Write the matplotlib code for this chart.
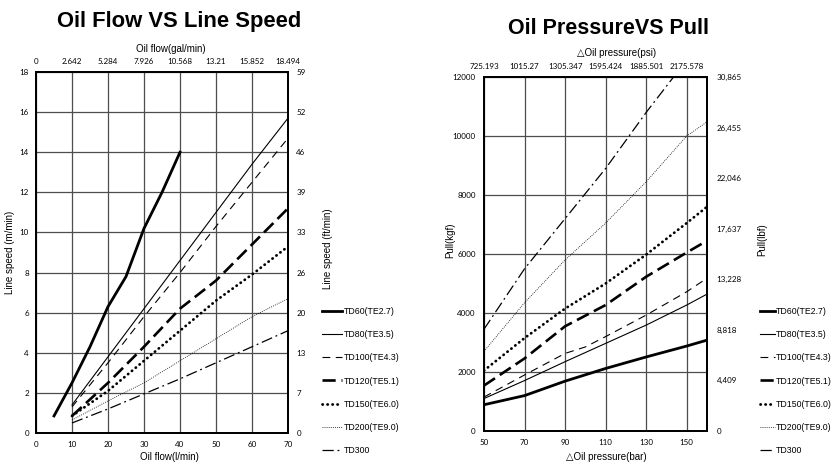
import matplotlib
matplotlib.use("Agg")
import matplotlib.pyplot as plt
from matplotlib.lines import Line2D

plt.rcParams["font.family"] = ["Liberation Sans", "DejaVu Sans"]

# ---- left chart: oil flow (l/min) vs line speed (m/min)
flow = [10, 20, 30, 40, 50, 60, 70]
td60_flow = [5, 10, 15, 20, 25, 30, 35, 40]
td60_speed = [0.85, 2.5, 4.3, 6.3, 7.8, 10.2, 12.0, 14.0]
td80_speed = [1.4, 3.8, 6.2, 8.6, 11.0, 13.4, 15.7]
td100_speed = [1.3, 3.5, 5.8, 8.0, 10.3, 12.5, 14.7]
td120_speed = [0.85, 2.5, 4.3, 6.2, 7.6, 9.4, 11.2]
td150_speed = [0.85, 2.1, 3.6, 5.1, 6.6, 7.9, 9.3]
td200_speed = [0.65, 1.6, 2.5, 3.6, 4.7, 5.8, 6.7]
td300_speed = [0.5, 1.2, 1.95, 2.7, 3.5, 4.3, 5.1]

flow_ticks = [0, 10, 20, 30, 40, 50, 60, 70]
gal_labels = ["0", "2.642", "5.284", "7.926", "10.568", "13.21", "15.852", "18.494"]
speed_ticks = [0, 2, 4, 6, 8, 10, 12, 14, 16, 18]
ftmin_labels = ["0", "7", "13", "20", "26", "33", "39", "46", "52", "59"]

# ---- right chart: oil pressure (bar) vs pull (kgf)
pressure = [50, 70, 90, 110, 130, 150, 160]
td60_pull = [890, 1200, 1690, 2120, 2510, 2880, 3080]
td80_pull = [1100, 1710, 2350, 2970, 3590, 4270, 4640]
td100_pressure = [50, 70, 90, 100, 110, 130, 150, 160]
td100_pull = [1150, 1900, 2630, 2850, 3200, 3930, 4720, 5180]
td120_pull = [1540, 2460, 3550, 4270, 5230, 6050, 6450]
td150_pull = [2050, 3150, 4150, 5000, 5980, 7050, 7600]
td200_pull = [2700, 4350, 5800, 7050, 8450, 10000, 10480]
td300_pressure = [50, 70, 90, 110, 130, 143.5]
td300_pull = [3450, 5500, 7200, 8900, 10800, 12000]

bar_ticks = [50, 70, 90, 110, 130, 150]
psi_labels = ["725.193", "1015.27", "1305.347", "1595.424", "1885.501", "2175.578"]
pull_ticks = [0, 2000, 4000, 6000, 8000, 10000, 12000]
lbf_ticks = [0, 4409, 8818, 13228, 17637, 22046, 26455, 30865]
lbf_labels = ["0", "4,409", "8,818", "13,228", "17,637", "22,046", "26,455", "30,865"]

names = ["TD60(TE2.7)", "TD80(TE3.5)", "TD100(TE4.3)", "TD120(TE5.1)",
         "TD150(TE6.0)", "TD200(TE9.0)", "TD300"]
styles = [
    dict(lw=2.0, ls="-"),
    dict(lw=0.8, ls="-"),
    dict(lw=0.8, ls=(0, (7, 5))),
    dict(lw=1.9, ls=(0, (5, 2.2))),
    dict(lw=2.0, ls=(0, (0.1, 1.7)), dash_capstyle="round"),
    dict(lw=0.6, ls=(0, (1, 1.5))),
    dict(lw=0.9, ls=(0, (9, 3, 1.5, 3))),
]

tick_font = dict(fontsize=5.8, family=["Lato", "DejaVu Sans"])
grid_color = "#4d4d4d"

fig = plt.figure(figsize=(8.34, 4.63), dpi=100)


def style_axes(ax):
    ax.grid(True, color=grid_color, lw=0.9)
    ax.tick_params(length=0)
    for s in ax.spines.values():
        s.set_linewidth(1.2)
        s.set_color("black")


# ---------- left chart
ax1 = fig.add_axes([36 / 834, 1 - 433 / 463, 252 / 834, 361 / 463])
xs = [td60_flow, flow, flow, flow, flow, flow, flow]
ys = [td60_speed, td80_speed, td100_speed, td120_speed, td150_speed, td200_speed, td300_speed]
for x, y, st in zip(xs, ys, styles):
    ax1.plot(x, y, color="black", **st)
ax1.set_xlim(0, 70)
ax1.set_ylim(0, 18)
ax1.set_xticks(flow_ticks)
ax1.set_yticks(speed_ticks)
for lab in ax1.get_xticklabels() + ax1.get_yticklabels():
    lab.set(**tick_font)
ax1.tick_params(axis="x", pad=6)
ax1.tick_params(axis="y", pad=5)
style_axes(ax1)
ax1.set_xlabel("Oil flow(l/min)", fontsize=7)
ax1.xaxis.set_label_coords(0.528, -0.052)
ax1.set_ylabel("Line speed (m/min)", fontsize=7)
ax1.yaxis.set_label_coords(-0.083, 0.5)

ax1r = ax1.twinx()
ax1r.set_ylim(0, 18)
ax1r.set_yticks(speed_ticks)
ax1r.set_yticklabels(ftmin_labels, **tick_font)
ax1r.tick_params(length=0, pad=6)
ax1r.set_ylabel("Line speed (ft/min)", fontsize=7)
ax1r.yaxis.set_label_coords(1.139, 0.51)

ax1t = ax1.twiny()
ax1t.set_xlim(0, 70)
ax1t.set_xticks(flow_ticks)
ax1t.set_xticklabels(gal_labels, **tick_font)
ax1t.tick_params(length=0, pad=5)
ax1t.set_xlabel("Oil flow(gal/min)", fontsize=7)
ax1t.xaxis.set_label_coords(0.533, 1.055)
for a in (ax1r, ax1t):
    for s in a.spines.values():
        s.set_linewidth(1.2)

fig.text(178.7 / 834, 1 - 21 / 463, "Oil Flow VS Line Speed", fontsize=15.8,
         fontweight="bold", ha="center", va="center")

# ---------- right chart
ax2 = fig.add_axes([484 / 834, 1 - 431 / 463, 223 / 834, 354 / 463])
xs2 = [pressure, pressure, td100_pressure, pressure, pressure, pressure, td300_pressure]
ys2 = [td60_pull, td80_pull, td100_pull, td120_pull, td150_pull, td200_pull, td300_pull]
for x, y, st in zip(xs2, ys2, styles):
    ax2.plot(x, y, color="black", **st)
ax2.set_xlim(50, 160)
ax2.set_ylim(0, 12000)
ax2.set_xticks(bar_ticks)
ax2.set_yticks(pull_ticks)
for lab in ax2.get_xticklabels() + ax2.get_yticklabels():
    lab.set(**tick_font)
ax2.tick_params(axis="x", pad=6)
ax2.tick_params(axis="y", pad=6)
style_axes(ax2)
ax2.set_xlabel("\u25b3Oil pressure(bar)", fontsize=7)
ax2.xaxis.set_label_coords(0.55, -0.058)
ax2.set_ylabel("Pull(kgf)", fontsize=7)
ax2.yaxis.set_label_coords(-0.13, 0.54)

ax2r = ax2.twinx()
ax2r.set_ylim(0, 30865)
ax2r.set_yticks(lbf_ticks)
ax2r.set_yticklabels(lbf_labels, **tick_font)
ax2r.tick_params(length=0, pad=7)
ax2r.set_ylabel("Pull(lbf)", fontsize=7)
ax2r.yaxis.set_label_coords(1.224, 0.54)

ax2t = ax2.twiny()
ax2t.set_xlim(50, 160)
ax2t.set_xticks(bar_ticks)
ax2t.set_xticklabels(psi_labels, **tick_font)
ax2t.tick_params(length=0, pad=5)
ax2t.set_xlabel("\u25b3Oil pressure(psi)", fontsize=7)
ax2t.xaxis.set_label_coords(0.596, 1.059)
for a in (ax2r, ax2t):
    for s in a.spines.values():
        s.set_linewidth(1.2)

fig.text(609 / 834, 1 - 28.5 / 463, "Oil PressureVS Pull", fontsize=15.5,
         fontweight="bold", ha="center", va="center")

# ---------- legends
handles = [Line2D([], [], color="black", **st) for st in styles]
fig.legend(handles, names, loc="upper left", bbox_to_anchor=(322 / 834, 1 - 307 / 463),
           frameon=False, fontsize=6.3, handlelength=2.3, handletextpad=0.2,
           labelspacing=1.62, borderpad=0, borderaxespad=0)
fig.legend(handles, names, loc="upper left", bbox_to_anchor=(760 / 834, 1 - 307 / 463),
           frameon=False, fontsize=6.3, handlelength=1.7, handletextpad=0.15,
           labelspacing=1.62, borderpad=0, borderaxespad=0)

fig.savefig("out.png", dpi=100, facecolor="white")
